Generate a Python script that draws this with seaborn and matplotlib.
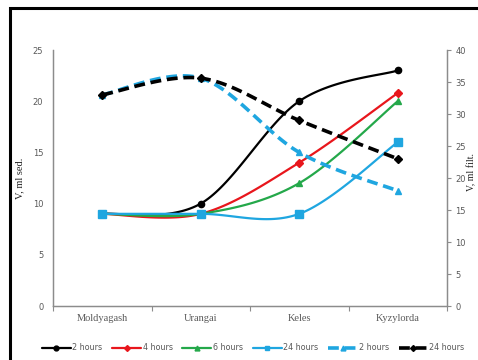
import numpy as np
import pandas as pd
import matplotlib
matplotlib.use("Agg")
import matplotlib.pyplot as plt
from matplotlib.lines import Line2D
from matplotlib.patches import Rectangle
import seaborn as sns

sns.set_theme(style="white")
plt.rcParams['font.family'] = ['DejaVu Sans']

# ---- data ----
categories = ["Moldyagash", "Urangai", "Keles", "Kyzylorda"]
sed_2h = [9.0, 10.0, 20.0, 23.0]
sed_4h = [9.0, 9.0, 14.0, 20.8]
sed_6h = [9.0, 9.0, 12.0, 20.0]
sed_24h = [9.0, 9.0, 9.0, 16.0]
filt_2h = [33.0, 35.6, 24.0, 18.0]
filt_24h = [33.0, 35.6, 29.0, 23.0]
left_ticks = [0, 5, 10, 15, 20, 25]
right_ticks = [0, 5, 10, 15, 20, 25, 30, 35, 40]
legend_labels = ["2 hours", "4 hours", "6 hours", "24 hours", "2 hours", "24 hours"]

BLACK = "#000000"
RED = "#E8161C"
GREEN = "#24A84A"
BLUE = "#1FA6E0"
GRAY = "#595959"
SPINE = "#8C8C8C"


def smooth(values, n=40):
    """Excel-style smoothed line (Catmull-Rom Bezier) through the points."""
    xs = np.arange(len(values), dtype=float)
    ys = np.asarray(values, dtype=float)
    P = np.column_stack([xs, ys])
    out = []
    for i in range(len(P) - 1):
        p0 = P[i - 1] if i > 0 else P[i]
        p1, p2 = P[i], P[i + 1]
        p3 = P[i + 2] if i + 2 < len(P) else P[i + 1]
        c1 = p1 + (p2 - p0) / 6.0
        c2 = p2 - (p3 - p1) / 6.0
        t = np.linspace(0, 1, n)[:, None]
        seg = ((1 - t) ** 3) * p1 + 3 * ((1 - t) ** 2) * t * c1 + 3 * (1 - t) * t ** 2 * c2 + t ** 3 * p2
        out.append(seg if i == 0 else seg[1:])
    seg = np.vstack(out)
    return pd.DataFrame({"x": seg[:, 0], "y": seg[:, 1]})


fig = plt.figure(figsize=(4.78, 3.6), dpi=100)
ax = fig.add_axes([53 / 478, 54 / 360, 394 / 478, 256 / 360])
ax2 = ax.twinx()

xpos = np.arange(len(categories))

solid = [(sed_2h, BLACK, "o", 4.5), (sed_4h, RED, "D", 4.0),
         (sed_6h, GREEN, "^", 5.0), (sed_24h, BLUE, "s", 5.5)]
for vals, col, mk, ms in solid:
    sns.lineplot(data=smooth(vals), x="x", y="y", ax=ax, color=col, lw=1.6,
                 sort=False, estimator=None)
    ax.plot(xpos, vals, ls="none", marker=mk, ms=ms, color=col, zorder=5)

dashed = [(filt_2h, BLUE, "^", 5.0), (filt_24h, BLACK, "D", 4.0)]
for vals, col, mk, ms in dashed:
    d = smooth(vals)
    ax2.plot(d["x"], d["y"], color=col, lw=2.6, ls=(0, (3.0, 1.6)))
    ax2.plot(xpos, vals, ls="none", marker=mk, ms=ms, color=col, zorder=5)

ax.set_xlim(-0.5, len(categories) - 0.5)
ax.set_ylim(0, 25)
ax2.set_ylim(0, 40)
ax.set_yticks(left_ticks)
ax2.set_yticks(right_ticks)
ax.set_xticks(xpos)
ax.set_xticklabels(categories, family="Liberation Serif", fontsize=7.5, color=GRAY)
ax.set_xticks(np.arange(-0.5, len(categories)), minor=True)
ax.tick_params(axis="x", which="major", length=0, pad=6)
ax.tick_params(axis="x", which="minor", length=3.5, width=0.8, color=SPINE, direction="out", bottom=True)
ax.tick_params(axis="y", length=0, labelsize=6, labelcolor=GRAY, pad=7)
ax2.tick_params(axis="y", length=3, width=0.8, color=SPINE, labelsize=6, labelcolor=GRAY, pad=3, direction="out")
ax.set_xlabel("")
ax.set_ylabel("V, ml sed.", family="Liberation Serif", fontsize=7.5, color="#222222", labelpad=6)
ax2.set_ylabel("")

for a in (ax, ax2):
    a.grid(False)
    a.spines["top"].set_visible(False)
    for s in ("left", "right", "bottom"):
        a.spines[s].set_color(SPINE)
        a.spines[s].set_linewidth(0.9)

fig.text(472 / 478, 1 - 172 / 360, "V, ml filt.", rotation=90, ha="center", va="center",
         family="Liberation Serif", fontsize=7, color="#222222")

handles = [
    Line2D([], [], color=BLACK, lw=1.6, marker="o", ms=3.5),
    Line2D([], [], color=RED, lw=1.6, marker="D", ms=3),
    Line2D([], [], color=GREEN, lw=1.6, marker="^", ms=3.5),
    Line2D([], [], color=BLUE, lw=1.6, marker="s", ms=3.5),
    Line2D([], [], color=BLUE, lw=2.6, ls=(0, (3.0, 1.6)), marker="^", ms=3.5),
    Line2D([], [], color=BLACK, lw=2.6, ls=(0, (3.0, 1.6)), marker="D", ms=3),
]
fig.legend(handles, legend_labels, loc="center", bbox_to_anchor=(253 / 478, 1 - 348 / 360),
           ncol=6, frameon=False, fontsize=5.8, labelcolor=GRAY, handlelength=3.6,
           handletextpad=0.2, columnspacing=1.2, borderaxespad=0)

fig.add_artist(Rectangle((10 / 478, -0.1), 1.2, 1.1 - 8 / 360 + 0.0, transform=fig.transFigure,
                         fill=False, lw=2.2, edgecolor="black", clip_on=False))

fig.savefig("out.png", dpi=100)
